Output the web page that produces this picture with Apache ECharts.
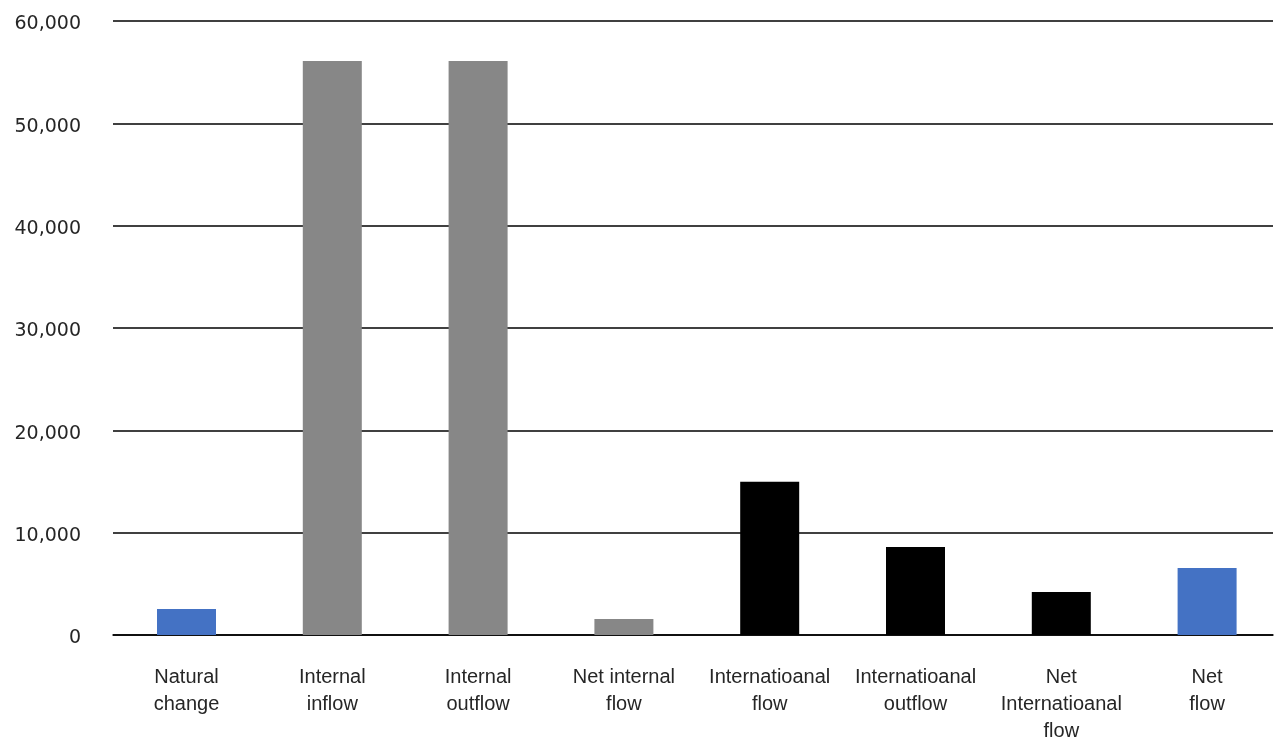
<!DOCTYPE html>
<html>
<head>
<meta charset="utf-8">
<script src="https://cdn.jsdelivr.net/npm/echarts@6/dist/echarts.min.js"></script>
<style>
html,body{margin:0;padding:0;background:#fff;}
#chart{width:1278px;height:739px;}
</style>
</head>
<body>
<div id="chart"></div>
<script>
const categories = ['Natural\nchange', 'Internal\ninflow', 'Internal\noutflow', 'Net internal\nflow', 'Internatioanal\nflow', 'Internatioanal\noutflow', 'Net\nInternatioanal\nflow', 'Net\nflow'];
const values = [2540, 56100, 56100, 1560, 14970, 8590, 4200, 6540];
const barColors = ['#4472C4', '#878787', '#878787', '#878787', '#000000', '#000000', '#000000', '#4472C4'];
const yMin = 0, yMax = 60000, yStep = 10000;

const chart = echarts.init(document.getElementById('chart'), null, {renderer: 'canvas'});
chart.setOption({
  animation: false,
  backgroundColor: '#ffffff',
  grid: [
    {left: 113, right: 5, top: 21, bottom: 104, containLabel: false, outerBoundsMode: 'none'},
    {left: 113.6, right: -2, top: 21, bottom: 104, containLabel: false, outerBoundsMode: 'none'}
  ],
  xAxis: [{
    gridIndex: 0,
    type: 'category',
    data: categories,
    axisLine: {show: true, lineStyle: {color: '#000', width: 1.5}},
    axisTick: {show: false},
    axisLabel: {show: false}
  }, {
    gridIndex: 1,
    type: 'category',
    data: categories,
    axisLine: {show: false},
    axisTick: {show: false},
    axisLabel: {color: '#262626', fontFamily: 'Liberation Sans', fontSize: 20, lineHeight: 27, margin: 29, interval: 0}
  }],
  yAxis: [{
    gridIndex: 0,
    type: 'value',
    min: yMin, max: yMax, interval: yStep,
    axisLine: {show: false},
    axisTick: {show: false},
    splitLine: {lineStyle: {color: '#000', width: 1.5}},
    axisLabel: {color: '#262626', fontFamily: 'DejaVu Sans', fontSize: 19, margin: 32,
      formatter: v => '{a|' + v.toLocaleString('en-US') + '}',
      rich: {a: {color: '#262626', fontFamily: 'DejaVu Sans', fontSize: 19, padding: [7, 0, 0, 0]}}}
  }, {
    gridIndex: 1,
    type: 'value',
    min: yMin, max: yMax, interval: yStep,
    show: false,
    splitLine: {show: false}
  }],
  series: [{
    type: 'bar',
    xAxisIndex: 1,
    yAxisIndex: 1,
    data: values.map((v, i) => ({value: v, itemStyle: {color: barColors[i]}})),
    barWidth: 59
  }]
});
</script>
</body>
</html>
